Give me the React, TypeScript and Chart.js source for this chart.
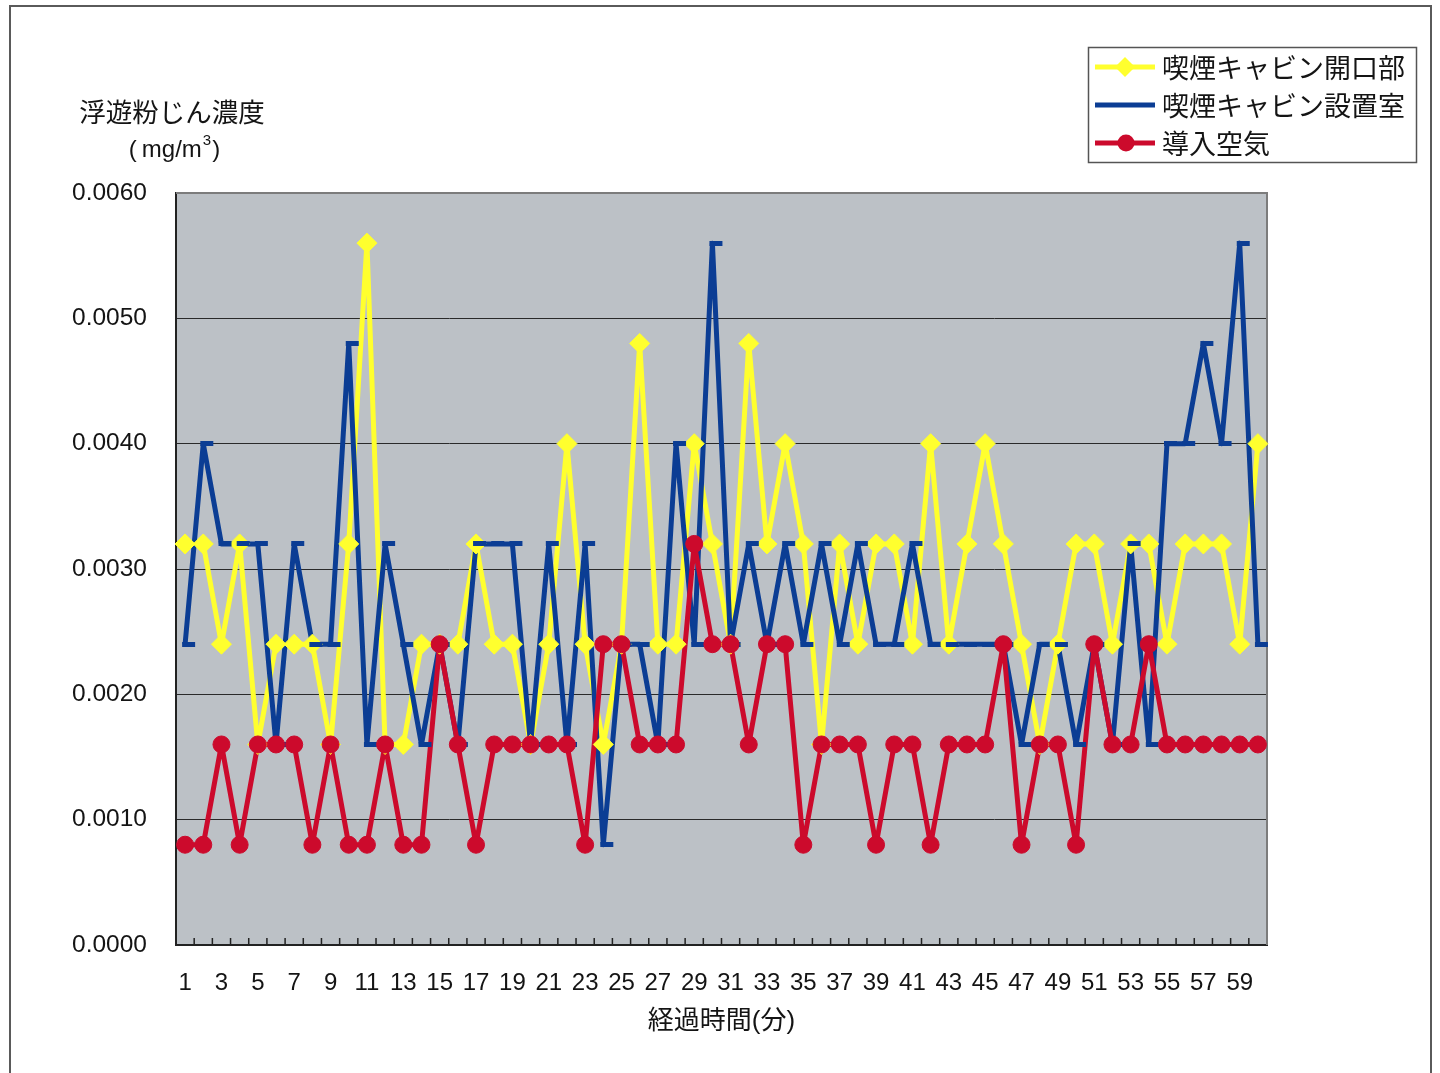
import React, { useEffect, useRef } from 'react';
import { Chart, registerables } from 'chart.js';

Chart.register(...registerables);

// ---- data ----
const categories = [
  '1', '2', '3', '4', '5', '6', '7', '8', '9', '10',
  '11', '12', '13', '14', '15', '16', '17', '18', '19', '20',
  '21', '22', '23', '24', '25', '26', '27', '28', '29', '30',
  '31', '32', '33', '34', '35', '36', '37', '38', '39', '40',
  '41', '42', '43', '44', '45', '46', '47', '48', '49', '50',
  '51', '52', '53', '54', '55', '56', '57', '58', '59', '60',
];

// 喫煙キャビン開口部
const openingSeries = [
  0.0032, 0.0032, 0.0024, 0.0032, 0.0016, 0.0024, 0.0024, 0.0024, 0.0016, 0.0032,
  0.0056, 0.0016, 0.0016, 0.0024, 0.0024, 0.0024, 0.0032, 0.0024, 0.0024, 0.0016,
  0.0024, 0.004, 0.0024, 0.0016, 0.0024, 0.0048, 0.0024, 0.0024, 0.004, 0.0032,
  0.0024, 0.0048, 0.0032, 0.004, 0.0032, 0.0016, 0.0032, 0.0024, 0.0032, 0.0032,
  0.0024, 0.004, 0.0024, 0.0032, 0.004, 0.0032, 0.0024, 0.0016, 0.0024, 0.0032,
  0.0032, 0.0024, 0.0032, 0.0032, 0.0024, 0.0032, 0.0032, 0.0032, 0.0024, 0.004,
];

// 喫煙キャビン設置室
const roomSeries = [
  0.0024, 0.004, 0.0032, 0.0032, 0.0032, 0.0016, 0.0032, 0.0024, 0.0024, 0.0048,
  0.0016, 0.0032, 0.0024, 0.0016, 0.0024, 0.0016, 0.0032, 0.0032, 0.0032, 0.0016,
  0.0032, 0.0016, 0.0032, 0.0008, 0.0024, 0.0024, 0.0016, 0.004, 0.0024, 0.0056,
  0.0024, 0.0032, 0.0024, 0.0032, 0.0024, 0.0032, 0.0024, 0.0032, 0.0024, 0.0024,
  0.0032, 0.0024, 0.0024, 0.0024, 0.0024, 0.0024, 0.0016, 0.0024, 0.0024, 0.0016,
  0.0024, 0.0016, 0.0032, 0.0016, 0.004, 0.004, 0.0048, 0.004, 0.0056, 0.0024,
];

// 導入空気
const inletSeries = [
  0.0008, 0.0008, 0.0016, 0.0008, 0.0016, 0.0016, 0.0016, 0.0008, 0.0016, 0.0008,
  0.0008, 0.0016, 0.0008, 0.0008, 0.0024, 0.0016, 0.0008, 0.0016, 0.0016, 0.0016,
  0.0016, 0.0016, 0.0008, 0.0024, 0.0024, 0.0016, 0.0016, 0.0016, 0.0032, 0.0024,
  0.0024, 0.0016, 0.0024, 0.0024, 0.0008, 0.0016, 0.0016, 0.0016, 0.0008, 0.0016,
  0.0016, 0.0008, 0.0016, 0.0016, 0.0016, 0.0024, 0.0008, 0.0016, 0.0016, 0.0008,
  0.0024, 0.0016, 0.0016, 0.0024, 0.0016, 0.0016, 0.0016, 0.0016, 0.0016, 0.0016,
];

const seriesLabels = ['喫煙キャビン開口部', '喫煙キャビン設置室', '導入空気'];
const yTitleText = '浮遊粉じん濃度';
const yUnitParts = ['(mg/m', '3', ')'];
const xTitleText = '経過時間(分)';
const yMin = 0;
const yMax = 0.006;
const yStep = 0.001;

// ---- styles ----
const YELLOW = '#ffff2e';
const BLUE = '#0b3d94';
const RED = '#cc0a2c';
const PLOT_BG = '#bcc1c6';
const TEXT = '#141414';
const LATIN = '"Liberation Sans", "Noto Sans CJK JP", sans-serif';
const CJK = '"Noto Sans CJK JP", sans-serif';

export default function App() {
  const ref = useRef<HTMLCanvasElement>(null);

  useEffect(() => {
    const canvas = ref.current;
    if (!canvas) return;

    // blue "dash" marker (slightly right-shifted, as in the print)
    const dash = document.createElement('canvas');
    dash.width = 26;
    dash.height = 5;
    const dctx = dash.getContext('2d')!;
    dctx.fillStyle = BLUE;
    dctx.fillRect(10, 0, 13, 5);

    const framePlugin = {
      id: 'framePlugin',
      beforeDraw(chart: any) {
        const { ctx, chartArea: a } = chart;
        ctx.save();
        ctx.fillStyle = PLOT_BG;
        ctx.fillRect(a.left, a.top, a.right - a.left, a.bottom - a.top);
        ctx.restore();
      },
      beforeDatasetsDraw(chart: any) {
        const { ctx, chartArea: a, scales } = chart;
        const x = scales.x;
        ctx.save();
        // top and right frame
        ctx.strokeStyle = '#7c7c7c';
        ctx.lineWidth = 2;
        ctx.beginPath();
        ctx.moveTo(a.left, a.top);
        ctx.lineTo(a.right, a.top);
        ctx.lineTo(a.right, a.bottom);
        ctx.stroke();
        // inward tick marks between categories
        ctx.strokeStyle = '#222';
        ctx.lineWidth = 1.5;
        ctx.beginPath();
        for (let i = 1; i < categories.length; i++) {
          const px = (x.getPixelForValue(i - 1) + x.getPixelForValue(i)) / 2;
          ctx.moveTo(px, a.bottom);
          ctx.lineTo(px, a.bottom - 7);
        }
        ctx.stroke();
        ctx.restore();
      },
      afterDraw(chart: any) {
        const { ctx } = chart;
        ctx.save();
        // ---- y-axis title (top left) ----
        ctx.fillStyle = TEXT;
        ctx.textBaseline = 'middle';
        ctx.textAlign = 'center';
        ctx.font = `26.5px ${CJK}`;
        ctx.fillText(yTitleText, 161, 105);
        ctx.textAlign = 'left';
        ctx.font = `24px ${LATIN}`;
        const w1 = ctx.measureText(yUnitParts[0]).width;
        const w3 = ctx.measureText(yUnitParts[2]).width;
        ctx.font = `15px ${LATIN}`;
        const w2 = ctx.measureText(yUnitParts[1]).width;
        let sx = 163 - (w1 + w2 + w3 + 6) / 2;
        ctx.font = `24px ${LATIN}`;
        ctx.fillText('(', sx, 143);
        const wp = ctx.measureText('(').width;
        ctx.fillText(yUnitParts[0].slice(1), sx + wp + 5, 143);
        sx += w1 + 5;
        ctx.font = `15px ${LATIN}`;
        ctx.fillText(yUnitParts[1], sx + 1, 134);
        sx += w2 + 2;
        ctx.font = `24px ${LATIN}`;
        ctx.fillText(yUnitParts[2], sx, 143);

        // ---- legend ----
        ctx.strokeStyle = '#555';
        ctx.lineWidth = 1.5;
        ctx.strokeRect(1077.5, 40.5, 328, 115);
        const colors = [YELLOW, BLUE, RED];
        const rows = [60, 98, 136];
        for (let i = 0; i < seriesLabels.length; i++) {
          const cy = rows[i];
          ctx.strokeStyle = colors[i];
          ctx.lineWidth = 5;
          ctx.beginPath();
          ctx.moveTo(1084, cy);
          ctx.lineTo(1144, cy);
          ctx.stroke();
          ctx.fillStyle = colors[i];
          if (i === 0) {
            ctx.beginPath();
            ctx.moveTo(1114 - 10, cy);
            ctx.lineTo(1114, cy - 10);
            ctx.lineTo(1114 + 10, cy);
            ctx.lineTo(1114, cy + 10);
            ctx.closePath();
            ctx.fill();
          } else if (i === 2) {
            ctx.beginPath();
            ctx.arc(1115, cy, 8.5, 0, Math.PI * 2);
            ctx.fill();
          }
          ctx.fillStyle = TEXT;
          ctx.textAlign = 'left';
          ctx.textBaseline = 'middle';
          ctx.font = `27px ${CJK}`;
          ctx.fillText(seriesLabels[i], 1151, cy + 1);
        }
        ctx.restore();
      },
    };

    const lineBase = {
      borderWidth: 5,
      borderJoinStyle: 'round',
      pointRadius: 0,
      tension: 0,
      fill: false,
    };

    const chart = new Chart(canvas, {
      type: 'line',
      data: {
        labels: categories,
        datasets: [
          // markers (drawn above all lines)
          {
            label: seriesLabels[2],
            data: inletSeries,
            showLine: false,
            pointStyle: 'circle',
            pointRadius: 8.5,
            pointBackgroundColor: RED,
            pointBorderColor: RED,
            pointBorderWidth: 1,
            order: 0,
          },
          {
            label: seriesLabels[1],
            data: roomSeries,
            showLine: false,
            pointStyle: dash as any,
            pointRadius: 6,
            order: 1,
          },
          {
            label: seriesLabels[0],
            data: openingSeries,
            showLine: false,
            pointStyle: 'rectRot',
            pointRadius: 10,
            pointBackgroundColor: YELLOW,
            pointBorderColor: YELLOW,
            pointBorderWidth: 1,
            order: 2,
          },
          // lines
          { label: seriesLabels[2], data: inletSeries, borderColor: RED, ...lineBase, order: 3 },
          { label: seriesLabels[1], data: roomSeries, borderColor: BLUE, ...lineBase, order: 4 },
          { label: seriesLabels[0], data: openingSeries, borderColor: YELLOW, ...lineBase, order: 5 },
        ] as any,
      },
      options: {
        responsive: false,
        animation: false,
        events: [],
        layout: { padding: { top: 186, right: 163, left: 0, bottom: 0 } },
        plugins: {
          legend: { display: false },
          tooltip: { enabled: false },
          title: { display: false },
        },
        scales: {
          x: {
            type: 'category',
            offset: true,
            grid: { display: false, drawTicks: false },
            border: { display: true, color: '#222', width: 2 },
            ticks: {
              autoSkip: false,
              maxRotation: 0,
              minRotation: 0,
              padding: 24,
              color: TEXT,
              font: { family: LATIN, size: 24 },
              callback: (_v: any, idx: number) => (idx % 2 === 0 ? categories[idx] : ''),
            },
            title: {
              display: true,
              text: xTitleText,
              color: TEXT,
              font: { family: LATIN, size: 26 },
              padding: { top: 0, bottom: 56 },
            },
            afterFit: (scale: any) => {
              scale.height = 148;
            },
          },
          y: {
            min: yMin,
            max: yMax,
            grid: { color: '#2a2a2a', lineWidth: 1, drawTicks: false },
            border: { display: true, color: '#222', width: 2 },
            ticks: {
              stepSize: yStep,
              padding: 29,
              color: TEXT,
              font: { family: LATIN, size: 24.5 },
              callback: (v: any) => Number(v).toFixed(4),
            },
            afterFit: (scale: any) => {
              scale.width = 165;
            },
          },
        },
      } as any,
      plugins: [framePlugin],
    });

    return () => chart.destroy();
  }, []);

  return (
    <div
      style={{
        position: 'fixed',
        left: 9,
        top: 5,
        width: 1423,
        height: 1094,
        border: '2px solid #5a5a5a',
        boxSizing: 'border-box',
        background: '#ffffff',
      }}
    >
      <canvas ref={ref} width={1419} height={1086} style={{ display: 'block' }} />
    </div>
  );
}
